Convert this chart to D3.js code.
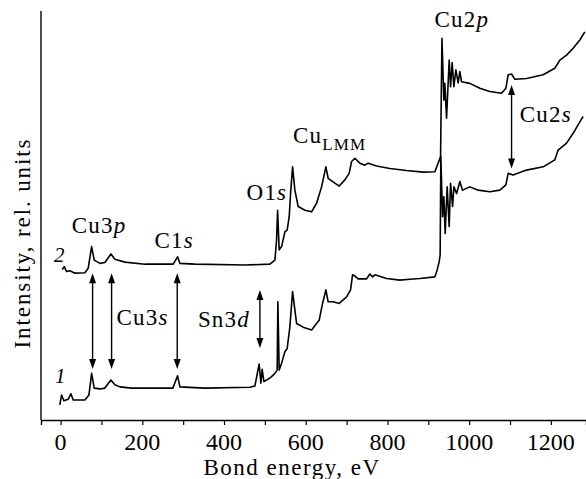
<!DOCTYPE html>
<html>
<head>
<meta charset="utf-8">
<script src="https://cdn.jsdelivr.net/npm/d3@7"></script>
<style>
  body { margin: 0; background: #fff; }
  svg { display: block; }
</style>
</head>
<body>
<svg id="chart" width="586" height="479"></svg>
<script>
// spectrum 1 (lower) : [bond energy eV, intensity rel. units]
const spectrum1 = [
  [-2, 3.7], [2.4, 6.1], [8.1, 4.7], [18.6, 5.1], [25.2, 6.4], [30.8, 4.9], [59.5, 4.9],
  [69.3, 6.1], [75.9, 11.4], [82.2, 7.8], [96.2, 7.6], [108.4, 7.8], [123.1, 9.8],
  [132.9, 8.6], [145.2, 8.1], [173.8, 7.8], [206.3, 7.8], [274.8, 7.8], [286.3, 10.8],
  [292, 8.1], [353.2, 7.8], [463.3, 8.0], [475.5, 8.3], [486, 13.7], [490.2, 9.0],
  [493.4, 12.4], [497.5, 9.4], [508.1, 10.0], [516.4, 10.6], [524.5, 11.4], [530.1, 12.2],
  [531.8, 28.9], [535, 12.2], [540.9, 13.9], [549, 16.7], [554.6, 17.5], [561.2, 22.8],
  [567.8, 31.4], [577.6, 23.6], [593.7, 22.7], [614.3, 22.0], [626.5, 23.6], [632.9, 24.4],
  [641.2, 28.5], [649.3, 31.8], [654.9, 28.9], [667.2, 28.9], [681.8, 28.5], [700, 30.1],
  [709.7, 31.8], [714.6, 35.5], [720.3, 35.2], [728.3, 34.5], [748.9, 34.5], [757, 35.7],
  [763.6, 35.0], [769.2, 35.5], [797.8, 34.6], [830.4, 34.2], [854.9, 34.4], [879.4, 34.6],
  [916.1, 35.0], [921.7, 36.7], [926.6, 38.7], [929, 40.3], [930.7, 64.4], [934.9, 49.7],
  [938.1, 54.6], [941.3, 45.6], [946.2, 57.0], [951.1, 47.3], [954.5, 57.9], [959.4, 52.2],
  [962.6, 57.0], [969.2, 55.4], [977.2, 58.3], [983.8, 56.2], [1001.7, 57.0], [1022, 56.2],
  [1050.6, 55.8], [1075.1, 56.2], [1089.8, 57.5], [1095.5, 60.3], [1107.7, 59.9],
  [1140.5, 61.1], [1181.1, 61.9], [1209.7, 63.6], [1217.8, 66.0], [1238.4, 67.7],
  [1254.5, 70.1], [1270.9, 72.9], [1279, 74.2]
]

// spectrum 2 (upper)
const spectrum2 = [
  [3.9, 36.8], [8.8, 37.5], [14.7, 36.3], [22.8, 36.5], [35.0, 35.9], [59.5, 36.0],
  [67.5, 37.1], [75.9, 42.4], [82.2, 39.1], [96.2, 38.3], [108.4, 38.5], [123.1, 40.6],
  [132.9, 39.3], [157.4, 38.6], [206.3, 38.1], [275.6, 38.1], [286.3, 39.9], [292, 38.3],
  [328.7, 38.1], [451.1, 37.9], [512.2, 38.1], [524.5, 39.1], [528.6, 44.0], [531.1, 51.3],
  [535, 41.6], [540.9, 42.4], [549, 46.0], [554.6, 46.5], [559.5, 49.7], [562.9, 55.4],
  [567.8, 61.9], [573.4, 56.2], [581.5, 52.2], [597.9, 51.3], [614.3, 50.9], [626.5, 53.0],
  [638.8, 57.0], [649.3, 61.9], [654.9, 59.1], [671.3, 57.9], [681.8, 57.2], [695.8, 58.7],
  [706.3, 60.3], [712.2, 63.2], [720.3, 64.0], [732.5, 62.8], [744.7, 62.3], [752.8, 62.8],
  [773.4, 62.1], [805.9, 61.5], [846.8, 61.0], [887.4, 60.6], [916.1, 60.7], [924.2, 62.8],
  [930, 64.4], [933.4, 93.3], [938.1, 78.2], [940.5, 82.3], [944.7, 73.8], [951.1, 88.0],
  [954.5, 81.5], [958.4, 87.4], [962.6, 81.5], [967.5, 85.6], [973.1, 82.4], [977.2, 85.2],
  [981.4, 82.7], [1001.7, 82.3], [1026.2, 81.1], [1050.6, 80.3], [1079.3, 79.9],
  [1089.8, 81.1], [1095.5, 84.4], [1103.8, 84.6], [1111.9, 83.3], [1140.5, 83.5],
  [1181.1, 84.4], [1209.7, 86.0], [1222, 88.0], [1238.4, 89.2], [1254.5, 90.9],
  [1270.9, 92.9], [1283.1, 94.9]
]

const xTicks = [0, 100, 200, 300, 400, 500, 600, 700, 800, 900, 1000, 1100, 1200]
const xTickLabels = [0, 200, 400, 600, 800, 1000, 1200]

// peak labels: [main, italic part, subscript, energy, intensity, anchor]
const peakLabels = [
  ["Cu3", "p", "", 94, 45.7, "middle"],
  ["C1", "s", "", 277.8, 42, "middle"],
  ["O1", "s", "", 505, 53.8, "middle"],
  ["Cu", "", "LMM", 568.6, 67.7, "start"],
  ["Cu2", "p", "", 982, 96.1, "middle"],
  ["Cu2", "s", "", 1124, 72.9, "start"],
  ["Cu3", "s", "", 137, 23.2, "start"],
  ["Sn3", "d", "", 336, 22.8, "start"]
]

// double arrows: [energy, intensity top, intensity bottom]
const arrows = [
  [78.3, 35.9, 12.5],
  [124.8, 35.9, 12.5],
  [285.4, 35.9, 12.5],
  [487.8, 31.8, 17.6],
  [1103.8, 81.9, 61.5]
]

const curveNames = [["1", -14, 9.0], ["2", -16, 38.6]]

const FONT = "'Liberation Serif', 'DejaVu Serif', serif"
const svg = d3.select("#chart").attr("font-family", FONT)
const margin = {left: 41, right: 0, top: 11, bottom: 59}
const W = 586, H = 479

const x = d3.scaleLinear().domain([-48, 1286]).range([margin.left, W - margin.right])
const y = d3.scaleLinear().domain([0, 100]).range([H - margin.bottom, margin.top])

// axes
svg.append("line")
  .attr("x1", margin.left).attr("x2", margin.left)
  .attr("y1", margin.top).attr("y2", y(0))
  .attr("stroke", "#000").attr("stroke-width", 1.4)

const xAxis = svg.append("g")
  .attr("transform", `translate(0,${y(0)})`)
  .call(d3.axisBottom(x).tickValues(xTicks).tickSize(5).tickFormat(""))
xAxis.select(".domain").attr("stroke-width", 1.4)
xAxis.selectAll(".tick line").attr("stroke-width", 1.2)

svg.append("g").selectAll("text")
  .data(xTickLabels)
  .join("text")
  .attr("x", d => x(d))
  .attr("y", y(0) + 30)
  .attr("text-anchor", "middle")
  .attr("font-family", FONT)
  .attr("font-size", 24)
  .text(d => d)

svg.append("text")
  .attr("x", 292)
  .attr("y", 475)
  .attr("text-anchor", "middle")
  .attr("font-family", FONT)
  .attr("font-size", 23)
  .attr("letter-spacing", 1.5)
  .text("Bond energy, eV")

svg.append("text")
  .attr("transform", "translate(30,243) rotate(-90)")
  .attr("text-anchor", "middle")
  .attr("font-family", FONT)
  .attr("font-size", 23)
  .attr("letter-spacing", 1.9)
  .text("Intensity, rel. units")

// spectra
const line = d3.line().x(d => x(d[0])).y(d => y(d[1]))
svg.selectAll("path.spec")
  .data([spectrum1, spectrum2])
  .join("path")
  .attr("class", "spec")
  .attr("d", line)
  .attr("fill", "none")
  .attr("stroke", "#000")
  .attr("stroke-width", 1.6)
  .attr("stroke-linejoin", "round")

// arrows
const head = 10, hw = 3.5
const ag = svg.append("g")
arrows.forEach(([e, top, bot]) => {
  const ax = x(e), y1 = y(top), y2 = y(bot)
  ag.append("line")
    .attr("x1", ax).attr("x2", ax)
    .attr("y1", y1 + head - 1).attr("y2", y2 - head + 1)
    .attr("stroke", "#000").attr("stroke-width", 1.4)
  ag.append("path")
    .attr("d", `M${ax},${y1}L${ax - hw},${y1 + head}L${ax + hw},${y1 + head}Z`)
  ag.append("path")
    .attr("d", `M${ax},${y2}L${ax - hw},${y2 - head}L${ax + hw},${y2 - head}Z`)
})

// peak labels
const lg = svg.append("g")
peakLabels.forEach(([main, ital, sub, e, inten, anchor]) => {
  const t = lg.append("text")
    .attr("x", x(e)).attr("y", y(inten))
    .attr("text-anchor", anchor)
    .attr("font-family", FONT)
    .attr("font-size", 23)
    .attr("letter-spacing", 1.2)
  t.append("tspan").text(main)
  if (ital) t.append("tspan").attr("font-style", "italic").text(ital)
  if (sub) t.append("tspan").attr("font-size", 17).attr("dy", 7).text(sub)
})

svg.append("g").selectAll("text")
  .data(curveNames)
  .join("text")
  .attr("x", d => x(d[1]))
  .attr("y", d => y(d[2]))
  .attr("font-family", FONT)
  .attr("font-size", 21)
  .attr("font-style", "italic")
  .text(d => d[0])
</script>
</body>
</html>
